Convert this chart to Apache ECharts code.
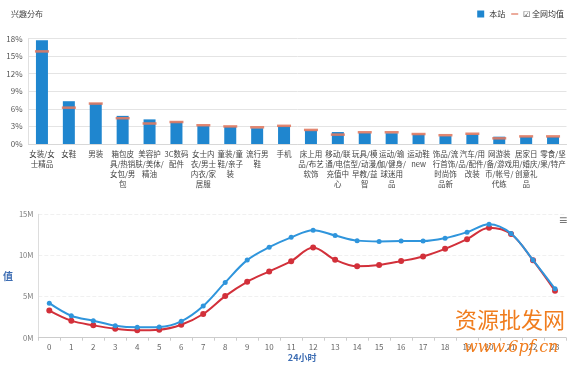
<!DOCTYPE html>
<html><head><meta charset="utf-8">
<script src="https://cdn.jsdelivr.net/npm/echarts@6/dist/echarts.min.js"></script>
<style>html,body{margin:0;padding:0;background:#fff}#c{width:575px;height:366px}</style>
</head><body><div id="c"></div>
<script>
var categories = ['女装/女士精品','女鞋','男装','箱包皮具/热销女包/男包','美容护肤/美体/精油','3C数码配件','女士内衣/男士内衣/家居服','童装/童鞋/亲子装','流行男鞋','手机','床上用品/布艺软饰','移动/联通/电信充值中心','玩具/模型/动漫/早教/益智','运动/瑜伽/健身/球迷用品','运动鞋new','饰品/流行首饰/时尚饰品新','汽车/用品/配件/改装','网游装备/游戏币/帐号/代练','居家日用/婚庆/创意礼品','零食/坚果/特产'];
var categoryLabels = ['女装/女\n士精品','女鞋','男装','箱包皮\n具/热销\n女包/男\n包','美容护\n肤/美体/\n精油','3C数码\n配件','女士内\n衣/男士\n内衣/家\n居服','童装/童\n鞋/亲子\n装','流行男\n鞋','手机','床上用\n品/布艺\n软饰','移动/联\n通/电信\n充值中\n心','玩具/模\n型/动漫/\n早教/益\n智','运动/瑜\n伽/健身/\n球迷用\n品','运动鞋\nnew','饰品/流\n行首饰/\n时尚饰\n品新','汽车/用\n品/配件/\n改装','网游装\n备/游戏\n币/帐号/\n代练','居家日\n用/婚庆/\n创意礼\n品','零食/坚\n果/特产'];
var siteValues = [17.7,7.3,7.0,4.8,4.2,3.8,3.1,2.95,2.7,3.05,2.33,2.04,1.9,1.85,1.65,1.36,1.65,1.25,1.25,1.2];
var avgValues = [15.8,6.2,6.9,4.4,3.5,3.75,3.2,3.0,2.85,3.1,2.4,1.6,2.0,2.0,1.7,1.5,1.75,0.97,1.3,1.3];
var pctTicks = [0,3,6,9,12,15,18];

var hours = ['0','1','2','3','4','5','6','7','8','9','10','11','12','13','14','15','16','17','18','19','20','21','22','23'];
var blueValues = [4.2,2.67,2.07,1.46,1.26,1.3,1.99,3.85,6.72,9.43,11.0,12.2,13.07,12.43,11.8,11.7,11.74,11.74,12.1,12.83,13.8,12.67,9.43,5.95];
var redValues = [3.3,2.07,1.5,1.09,0.9,0.97,1.58,2.88,5.06,6.8,8.06,9.3,10.97,9.47,8.67,8.83,9.31,9.88,10.8,11.98,13.36,12.6,9.4,5.7];
var hourTicksM = [0,5,10,15];

var FONT = '"Noto Sans CJK SC", "Noto Sans", sans-serif';
var chart = echarts.init(document.getElementById('c'), null, {renderer:'canvas'});
var toM = function(a){return a.map(function(v){return Math.round(v*1e6);});};
chart.setOption({
  animation:false,
  textStyle:{fontFamily:FONT},
  title:{text:'兴趣分布', left:6, top:5, textStyle:{fontSize:8, fontWeight:'normal', color:'#444', fontFamily:FONT}},
  legend:{
    right:6, top:5, itemWidth:7, itemHeight:7, itemGap:6,
    textStyle:{fontSize:8, color:'#333', fontFamily:FONT},
    formatter:function(n){return n==='全网均值' ? '☑ 全网均值' : n;},
    data:[{name:'本站', icon:'rect'},{name:'全网均值', icon:'path://M0,3 L10,3 L10,5 L0,5 Z'}]
  },
  grid:[
    {left:28.5, right:8.5, top:38.5, height:105.5},
    {left:34, right:9, top:214.3, height:123.4}
  ],
  xAxis:[
    {type:'category', gridIndex:0, data:categories,
     axisLine:{lineStyle:{color:'#d8d8d8'}}, axisTick:{show:false},
     axisLabel:{interval:0, fontSize:7.5, lineHeight:10, color:'#444', margin:5,
       formatter:function(v,i){return categoryLabels[i];}}},
    {type:'category', gridIndex:1, data:hours, boundaryGap:true,
     name:'24小时', nameLocation:'middle', nameGap:15,
     nameTextStyle:{color:'#3d6db3', fontSize:9, fontWeight:'bold'},
     axisLine:{lineStyle:{color:'#ccc'}}, axisTick:{show:true, length:3, lineStyle:{color:'#ccc'}},
     axisLabel:{fontSize:8, color:'#666', margin:5}}
  ],
  yAxis:[
    {type:'value', gridIndex:0, min:pctTicks[0], max:pctTicks[pctTicks.length-1], interval:3,
     axisLine:{show:true, lineStyle:{color:'#e0e0e0'}}, axisTick:{show:false},
     splitLine:{lineStyle:{color:'#e4e4e4'}},
     axisLabel:{fontSize:8, color:'#555', margin:6, formatter:'{value}%'}},
    {type:'value', gridIndex:1, min:hourTicksM[0]*1e6, max:hourTicksM[hourTicksM.length-1]*1e6, interval:5e6,
     name:'值', nameLocation:'middle', nameGap:24, nameRotate:0,
     nameTextStyle:{color:'#3d6db3', fontSize:10, fontWeight:'bold'},
     axisLine:{show:true, lineStyle:{color:'#ddd'}}, axisTick:{show:false},
     splitLine:{lineStyle:{color:'#f0f0f0', type:'dashed'}},
     axisLabel:{fontSize:7.5, color:'#777', margin:5, formatter:function(v){return (v/1e6)+'M';}}}
  ],
  series:[
    {name:'本站', type:'bar', xAxisIndex:0, yAxisIndex:0, data:siteValues, barWidth:12,
     itemStyle:{color:'#1f86cf'}},
    {name:'全网均值', type:'scatter', xAxisIndex:0, yAxisIndex:0, data:avgValues,
     symbol:'rect', symbolSize:[14,2.5], itemStyle:{color:'#e07a62', opacity:0.9}, z:5},
    {name:'全网', type:'line', xAxisIndex:1, yAxisIndex:1, data:toM(redValues), smooth:0.35,
     symbol:'circle', symbolSize:6, lineStyle:{color:'#d2303a', width:2}, itemStyle:{color:'#d2303a'}, z:2},
    {name:'本站访问', type:'line', xAxisIndex:1, yAxisIndex:1, data:toM(blueValues), smooth:0.35,
     symbol:'circle', symbolSize:5, lineStyle:{color:'#2f95dc', width:2}, itemStyle:{color:'#2f95dc'}, z:3}
  ],
  graphic:[
    {type:'text', left:559, top:214, style:{text:'≡', fontSize:14, fill:'#777', font:'bold 14px DejaVu Sans'}},
    {type:'text', left:455, top:309, style:{text:'资源批发网', fill:'#f07d1e', font:'22px "Noto Sans CJK SC"'}, z:20},
    {type:'text', left:464, top:340, style:{text:'www.6pf.cn', fill:'#f07d1e', font:'italic 16px "DejaVu Serif"'}, z:20}
  ]
});
</script></body></html>
